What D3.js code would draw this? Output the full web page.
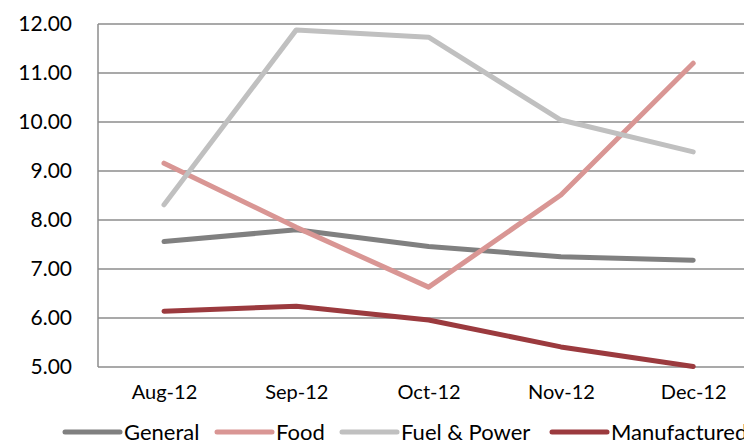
<!DOCTYPE html>
<html>
<head>
<meta charset="utf-8">
<script src="https://cdn.jsdelivr.net/npm/d3@7"></script>
<style>
  body { margin: 0; background: #fff; }
  text { font-family: Lato, "Open Sans", sans-serif; fill: #000; }
</style>
</head>
<body>
<div id="chart"></div>
<script>
// data
var months = ["Aug-12", "Sep-12", "Oct-12", "Nov-12", "Dec-12"];
var seriesNames = ["General", "Food", "Fuel & Power", "Manufactured"];
var general = [7.56, 7.80, 7.46, 7.25, 7.18];
var food = [9.16, 7.85, 6.63, 8.51, 11.20];
var fuel = [8.31, 11.88, 11.73, 10.04, 9.39];
var manufactured = [6.14, 6.24, 5.96, 5.41, 5.01];
var yTicks = [5, 6, 7, 8, 9, 10, 11, 12];
var colors = ["#808080", "#d99694", "#c0c0c0", "#9b3a3e"];

var series = [general, food, fuel, manufactured];

var margin = {top: 24, right: 0, bottom: 75, left: 98},
    width = 744 - margin.left - margin.right,
    height = 442 - margin.top - margin.bottom;

var svg = d3.select("#chart")
  .append("svg")
    .attr("width", 744)
    .attr("height", 442)
  .append("g")
    .attr("transform", "translate(" + margin.left + "," + margin.top + ")");

// x: band centres, the plot runs a bit past the right edge
var x = d3.scalePoint()
  .domain(months)
  .range([66, 66 + 4 * 132.3]);

var y = d3.scaleLinear()
  .domain([5, 12])
  .range([height, 0]);

// gridlines
svg.append("g")
  .selectAll("line")
  .data(yTicks)
  .enter()
  .append("line")
    .attr("x1", 0)
    .attr("x2", width)
    .attr("y1", function(d) { return y(d); })
    .attr("y2", function(d) { return y(d); })
    .attr("stroke", "#8c8c8c")
    .attr("stroke-width", 1.5);

// y axis
var yAxis = svg.append("g")
  .call(d3.axisLeft(y).tickValues(yTicks).tickFormat(d3.format(".2f")).tickSize(0).tickPadding(26));
yAxis.select(".domain").remove();
yAxis.selectAll("text").style("font-size", "21px").style("font-family", "Lato, sans-serif");

svg.append("line")
  .attr("x1", 0).attr("x2", 0)
  .attr("y1", 0).attr("y2", height)
  .attr("stroke", "#8c8c8c")
  .attr("stroke-width", 1.5);

// x axis labels
var xAxis = svg.append("g")
  .attr("transform", "translate(0," + height + ")")
  .call(d3.axisBottom(x).tickSize(0).tickPadding(18));
xAxis.select(".domain").remove();
xAxis.selectAll("text").style("font-size", "20px").style("font-family", "Lato, sans-serif");

// lines
var line = d3.line()
  .x(function(d, i) { return x(months[i]); })
  .y(function(d) { return y(d); });

svg.append("g")
  .selectAll("path")
  .data(series)
  .enter()
  .append("path")
    .attr("d", line)
    .attr("fill", "none")
    .attr("stroke", function(d, i) { return colors[i]; })
    .attr("stroke-width", 5)
    .attr("stroke-linecap", "round")
    .attr("stroke-linejoin", "round");

// legend
var legendX = [65, 217, 342, 552];
var legend = d3.select("svg").append("g")
  .selectAll("g")
  .data(seriesNames)
  .enter()
  .append("g")
    .attr("transform", function(d, i) { return "translate(" + legendX[i] + ",432)"; });

legend.append("line")
  .attr("x1", 0).attr("x2", 55)
  .attr("y1", 0).attr("y2", 0)
  .attr("stroke", function(d, i) { return colors[i]; })
  .attr("stroke-width", 5)
  .attr("stroke-linecap", "round");

legend.append("text")
  .attr("x", 59)
  .attr("y", 0)
  .attr("dy", "0.35em")
  .style("font-size", "22px")
  .text(function(d) { return d; });
</script>
</body>
</html>
